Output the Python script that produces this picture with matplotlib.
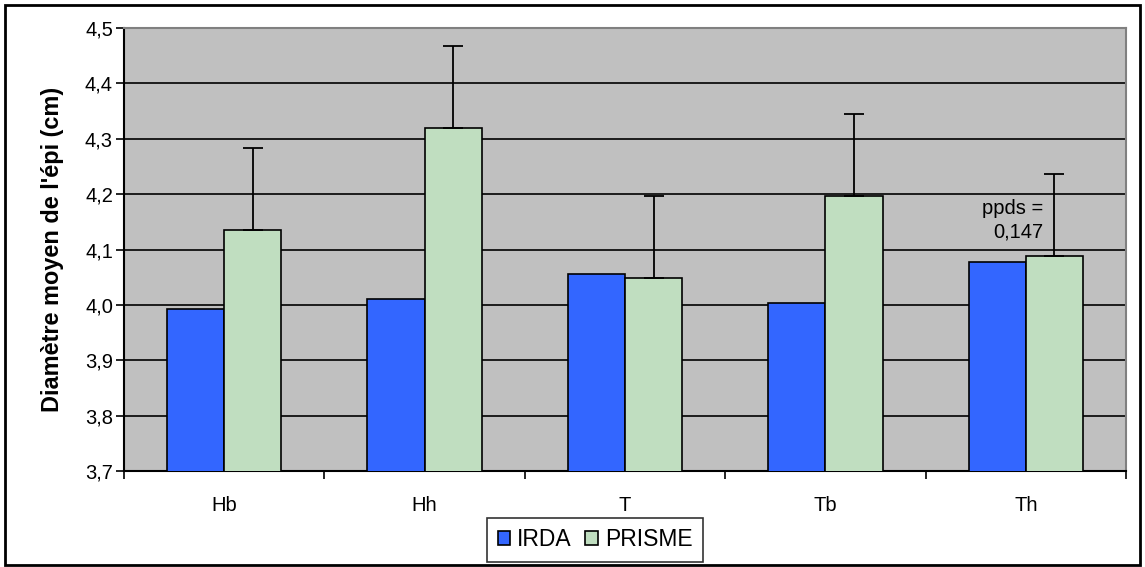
import matplotlib.pyplot as plt
import numpy as np
from matplotlib.patches import Rectangle

# data
categories = ['Hb', 'Hh', 'T', 'Tb', 'Th']
irda = [3.992, 4.010, 4.056, 4.003, 4.078]
prisme = [4.136, 4.320, 4.049, 4.197, 4.089]
ppds = 0.147
series_names = ['IRDA', 'PRISME']

plt.rcParams['font.family'] = ['Liberation Sans', 'DejaVu Sans']

fig = plt.figure(figsize=(11.45, 5.67), dpi=100)
ax = fig.add_axes([0.1083, 0.1693, 0.8751, 0.7813])
ax.set_facecolor('#C0C0C0')

x = np.arange(len(categories))
w = 0.285
ax.bar(x - w / 2, irda, w, color='#3366FF', edgecolor='black', linewidth=1.2,
       label=series_names[0], zorder=3)
ax.bar(x + w / 2, prisme, w, color='#C0DEC0', edgecolor='black', linewidth=1.2,
       label=series_names[1], zorder=3)
# upward-only error bars on PRISME
ax.errorbar(x + w / 2, prisme, yerr=[np.zeros(len(prisme)), np.full(len(prisme), ppds)],
            fmt='none', ecolor='black', elinewidth=1.3, capsize=7.5, capthick=1.3, zorder=4)

ax.text(x[-1] + 0.086, 4.153, 'ppds =\n0,147', ha='right', va='center',
        fontsize=14.5, linespacing=1.35, zorder=5)

ax.set_xlim(-0.5, len(categories) - 0.5)
ax.set_ylim(3.7, 4.5)
yt = np.arange(3.7, 4.51, 0.1)
ax.set_yticks(yt)
ax.set_yticklabels([('%.1f' % v).replace('.', ',') for v in yt], fontsize=14.5)
ax.set_xticks(x)
ax.set_xticklabels(categories, fontsize=14.5)
ax.set_xticks(np.arange(-0.5, len(categories), 1.0), minor=True)
ax.tick_params(axis='x', which='major', length=0, pad=18)
ax.tick_params(axis='x', which='minor', length=6, width=1.2, direction='out')
ax.tick_params(axis='y', length=6, width=1.2, direction='out', pad=2)

ax.grid(axis='y', color='black', linewidth=1.2, zorder=1)
ax.set_axisbelow(True)
ax.spines['left'].set_color('black')
ax.spines['left'].set_linewidth(1.5)
ax.spines['bottom'].set_color('black')
ax.spines['bottom'].set_linewidth(1.5)
ax.spines['top'].set_color('#808080')
ax.spines['top'].set_linewidth(1.5)
ax.spines['right'].set_color('#808080')
ax.spines['right'].set_linewidth(1.5)

ax.set_ylabel("Diamètre moyen de l'épi (cm)", fontsize=16.9, fontweight='bold', labelpad=15)

leg = fig.legend(loc='center', bbox_to_anchor=(595 / 1145, 1 - 540 / 567), ncol=2,
                 fontsize=16.5, frameon=True, fancybox=False, edgecolor='black',
                 handlelength=0.55, handleheight=0.55, handletextpad=0.3,
                 columnspacing=0.6, borderpad=0.45, borderaxespad=0)
leg.get_frame().set_linewidth(1.2)

fig.patches.append(Rectangle((0.004, 0.004), 0.992, 0.988, transform=fig.transFigure,
                             fill=False, edgecolor='black', linewidth=2))

fig.savefig('out.png', dpi=100)
